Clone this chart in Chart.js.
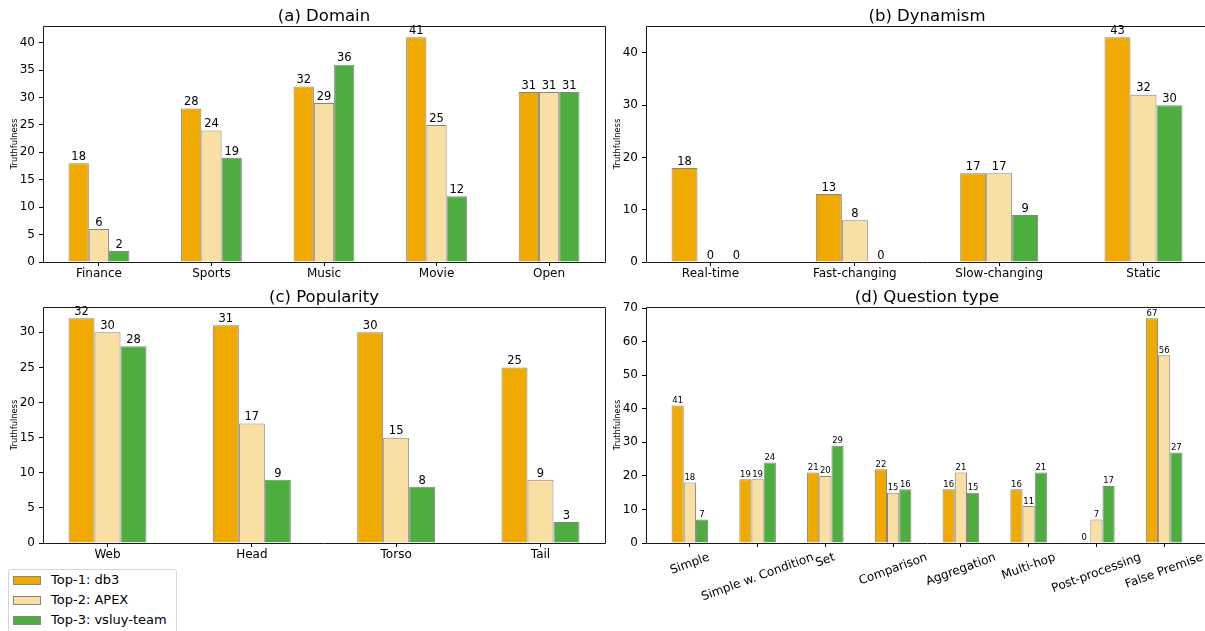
<!DOCTYPE html>
<html>
<head>
<meta charset="utf-8">
<script src="https://cdn.jsdelivr.net/npm/chart.js@4.4.1/dist/chart.umd.min.js"></script>
<style>
html,body{margin:0;padding:0;background:#fff;overflow:hidden;width:1205px;height:631px;position:relative;}
canvas{position:absolute;}
#legend{position:absolute;left:8px;top:569px;width:169px;height:75px;border:1px solid #d6d6d6;border-radius:3px;background:#fff;box-sizing:border-box;font-family:"DejaVu Sans";font-size:13px;color:#000;}
.sw{position:absolute;width:28px;height:9px;box-sizing:border-box;border:1px solid #858585;}
.lt{position:absolute;height:16px;line-height:16px;white-space:nowrap;}
</style>
</head>
<body>
<canvas id="cA" width="620" height="290" style="left:0px;top:0px"></canvas>
<canvas id="cB" width="620" height="290" style="left:603px;top:0px"></canvas>
<canvas id="cC" width="620" height="290" style="left:0px;top:281px"></canvas>
<canvas id="cD" width="620" height="350" style="left:603px;top:281px"></canvas>
<div id="legend"></div>
<script>
// ---------- data ----------
const seriesNames = ['Top-1: db3', 'Top-2: APEX', 'Top-3: vsluy-team'];
const seriesColors = ['#EFA900', '#F9DFA4', '#4DAE3F'];

const domainCats = ['Finance', 'Sports', 'Music', 'Movie', 'Open'];
const domainDb3 = [18, 28, 32, 41, 31];
const domainApex = [6, 24, 29, 25, 31];
const domainVsluy = [2, 19, 36, 12, 31];
const domainTicks = [0, 5, 10, 15, 20, 25, 30, 35, 40];

const dynCats = ['Real-time', 'Fast-changing', 'Slow-changing', 'Static'];
const dynDb3 = [18, 13, 17, 43];
const dynApex = [0, 8, 17, 32];
const dynVsluy = [0, 0, 9, 30];
const dynTicks = [0, 10, 20, 30, 40];

const popCats = ['Web', 'Head', 'Torso', 'Tail'];
const popDb3 = [32, 31, 30, 25];
const popApex = [30, 17, 15, 9];
const popVsluy = [28, 9, 8, 3];
const popTicks = [0, 5, 10, 15, 20, 25, 30];

const qtCats = ['Simple', 'Simple w. Condition', 'Set', 'Comparison', 'Aggregation', 'Multi-hop', 'Post-processing', 'False Premise'];
const qtDb3 = [41, 19, 21, 22, 16, 16, 0, 67];
const qtApex = [18, 19, 20, 15, 21, 11, 7, 56];
const qtVsluy = [7, 24, 29, 16, 15, 21, 17, 27];
const qtTicks = [0, 10, 20, 30, 40, 50, 60, 70];

const yLabel = 'Truthfulness';

// ---------- styling constants ----------
const FONT = '"DejaVu Sans"';
const BAR_W = 0.18;          // bar width in category units
const AXES_W = 562;
const AXES_H = 236;
const AX_LEFT = 43;
const AX_TOP = 26;

function makeChart(canvasId, cats, series, yTicks, title, labelSize, rotate) {
  const canvas = document.getElementById(canvasId);
  const cw = canvas.width, ch = canvas.height;
  const half = 1.5 * BAR_W + 0.05 * (cats.length - 1 + 3 * BAR_W);
  const allVals = series.flat();
  const yMax = Math.max(...allVals) * 1.05;

  const framePlugin = {
    id: 'frame',
    afterDraw(chart) {
      const {ctx, chartArea: a} = chart;
      ctx.save();
      ctx.strokeStyle = '#1a1a1a';
      ctx.lineWidth = 1;
      const l = Math.round(a.left) + 0.5, t = Math.round(a.top) + 0.5;
      const r = Math.round(a.right) + 0.5, b = Math.round(a.bottom) + 0.5;
      ctx.beginPath();
      ctx.moveTo(l, t); ctx.lineTo(r, t); ctx.lineTo(r, b); ctx.lineTo(l, b); ctx.closePath();
      ctx.stroke();
      ctx.restore();
    }
  };
  const valuePlugin = {
    id: 'valueLabels',
    afterDatasetsDraw(chart) {
      const ctx = chart.ctx;
      ctx.save();
      ctx.font = labelSize + 'px ' + FONT;
      ctx.fillStyle = '#000';
      ctx.textAlign = 'center';
      ctx.textBaseline = 'bottom';
      chart.data.datasets.forEach((ds, di) => {
        const meta = chart.getDatasetMeta(di);
        meta.data.forEach((el, i) => {
          ctx.fillText(String(ds.data[i].y), el.x, el.y - 0.5);
        });
      });
      ctx.restore();
    }
  };
  const titlePlugin = {
    id: 'panelTitle',
    afterDraw(chart) {
      const {ctx, chartArea: a} = chart;
      ctx.save();
      ctx.font = '16.5px ' + FONT;
      ctx.fillStyle = '#000';
      ctx.textAlign = 'center';
      ctx.textBaseline = 'alphabetic';
      ctx.fillText(title, (a.left + a.right) / 2, a.top - 5.5);
      ctx.restore();
    }
  };
  const rotPlugin = {
    id: 'rotLabels',
    afterDraw(chart) {
      if (!rotate) return;
      const {ctx, chartArea: a} = chart;
      const xs = chart.scales.x;
      const th = 20 * Math.PI / 180;
      ctx.save();
      ctx.font = '12px ' + FONT;
      ctx.fillStyle = '#000';
      ctx.textAlign = 'center';
      ctx.textBaseline = 'middle';
      const y0 = a.bottom + 4 + 3.5;
      cats.forEach((c, i) => {
        const w = ctx.measureText(c).width;
        const h = 14;
        const cx = xs.getPixelForValue(i);
        const cy = y0 + (w * Math.sin(th) + h * Math.cos(th)) / 2;
        ctx.save();
        ctx.translate(cx, cy);
        ctx.rotate(-th);
        ctx.fillText(c, 0, 0);
        ctx.restore();
      });
      ctx.restore();
    }
  };

  return new Chart(canvas, {
    type: 'bar',
    data: {
      datasets: series.map((s, k) => ({
        label: seriesNames[k],
        data: cats.map((c, i) => ({x: i, y: s[i]})),
        backgroundColor: seriesColors[k],
        borderColor: '#858585',
        borderWidth: 1,
        borderSkipped: 'start',
        categoryPercentage: 3 * BAR_W,
        barPercentage: 1
      }))
    },
    options: {
      responsive: false,
      animation: false,
      events: [],
      layout: {padding: {left: 0, top: AX_TOP, right: cw - AX_LEFT - AXES_W, bottom: 0}},
      plugins: {legend: {display: false}, tooltip: {enabled: false}, title: {display: false}},
      scales: {
        x: {
          type: 'linear',
          offset: false,
          min: -half,
          max: cats.length - 1 + half,
          grid: {offset: false, drawOnChartArea: false, drawTicks: true, tickLength: 4, color: '#000', tickColor: '#000'},
          border: {display: false},
          afterBuildTicks: s => { s.ticks = cats.map((c, i) => ({value: i})); },
          ticks: {display: !rotate, autoSkip: false, maxRotation: 0, minRotation: 0, color: '#000',
                  font: {family: 'DejaVu Sans', size: 12}, padding: 1,
                  callback: v => cats[v]},
          afterFit: s => { s.height = ch - AX_TOP - AXES_H; }
        },
        y: {
          type: 'linear',
          min: 0,
          max: yMax,
          grid: {drawOnChartArea: false, drawTicks: true, tickLength: 4, color: '#000', tickColor: '#000'},
          border: {display: false},
          afterBuildTicks: s => { s.ticks = yTicks.map(v => ({value: v})); },
          ticks: {color: '#000', font: {family: 'DejaVu Sans', size: 12}, padding: 4, callback: v => String(v)},
          title: {display: true, text: yLabel, color: '#000', font: {family: 'DejaVu Sans', size: 8.3}, padding: {top: 9.5, bottom: 0}},
          afterFit: s => { s.width = AX_LEFT; }
        }
      }
    },
    plugins: [framePlugin, valuePlugin, titlePlugin, rotPlugin]
  });
}

makeChart('cA', domainCats, [domainDb3, domainApex, domainVsluy], domainTicks, '(a) Domain', 11.5, false);
makeChart('cB', dynCats, [dynDb3, dynApex, dynVsluy], dynTicks, '(b) Dynamism', 11.5, false);
makeChart('cC', popCats, [popDb3, popApex, popVsluy], popTicks, '(c) Popularity', 11.5, false);
makeChart('cD', qtCats, [qtDb3, qtApex, qtVsluy], qtTicks, '(d) Question type', 8.5, true);

// ---------- legend ----------
const legend = document.getElementById('legend');
const rowCenters = [10, 30, 50];
seriesNames.forEach((name, k) => {
  const sw = document.createElement('div');
  sw.className = 'sw';
  sw.style.left = '4px';
  sw.style.top = (rowCenters[k] - 4.5) + 'px';
  sw.style.background = seriesColors[k];
  legend.appendChild(sw);
  const t = document.createElement('div');
  t.className = 'lt';
  t.style.left = '42px';
  t.style.top = (rowCenters[k] - 8) + 'px';
  t.textContent = name;
  legend.appendChild(t);
});
</script>
</body>
</html>
